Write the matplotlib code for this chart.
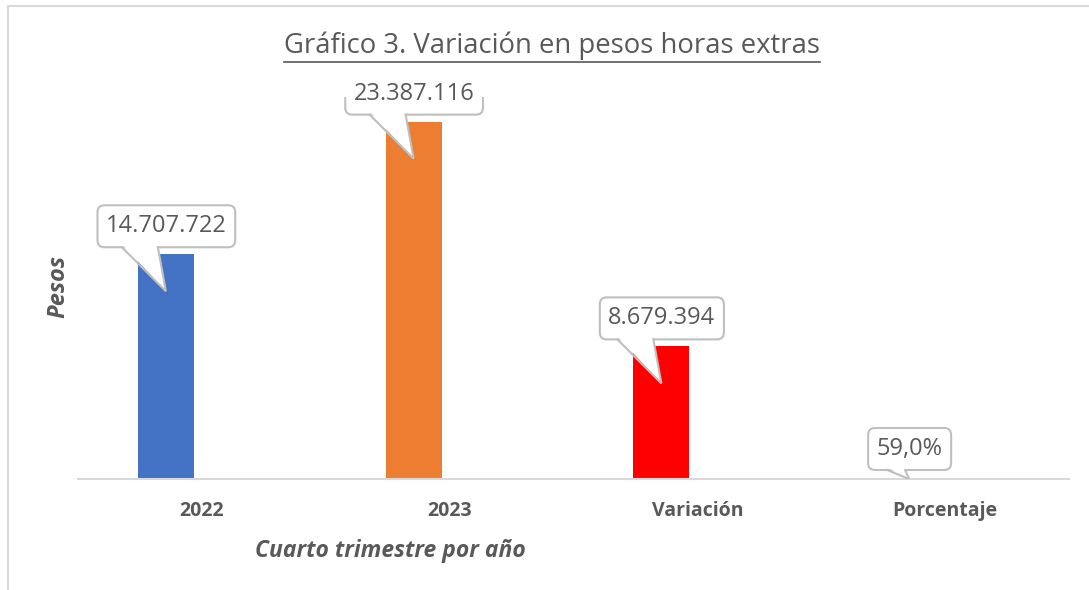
import matplotlib
matplotlib.use("Agg")
import matplotlib.pyplot as plt
import matplotlib.transforms as mtransforms
from matplotlib.patches import FancyBboxPatch, Polygon, Rectangle
from matplotlib.lines import Line2D
import numpy as np

categories = ["2022", "2023", "Variación", "Porcentaje"]
values = [14707722, 23387116, 8679394, 0.59]
labels = ["14.707.722", "23.387.116", "8.679.394", "59,0%"]
colors = ["#4472C4", "#ED7D31", "#FF0000", "#A5A5A5"]

title = "Gráfico 3. Variación en pesos horas extras"
xlabel = "Cuarto trimestre por año"
ylabel = "Pesos"

FONT = "Open Sans"
TXT = "#595959"
GRID = "#D9D9D9"
DPI = 100

fig = plt.figure(figsize=(10.89, 5.9), dpi=DPI)
W, H = 1089, 590

# outer chart frame (cut off on the right and bottom like the screenshot)
fig.patches.append(Rectangle((8 / W, -0.05), 1.1, (590 - 6) / H + 0.05,
                             transform=fig.transFigure, fill=False,
                             ec=GRID, lw=1.5))

ax = fig.add_axes([78 / W, 111 / H, 991 / W, 382 / H])
x = np.arange(len(categories))
bar_off = -36 / 247.75
bar_w = 56 / 247.75
ax.bar(x + bar_off, values, bar_w, color=colors, zorder=2)
ax.set_xlim(-0.5, len(categories) - 0.5)
ax.set_ylim(0, 25e6)
for s in ["left", "right", "top"]:
    ax.spines[s].set_visible(False)
ax.spines["bottom"].set_color(GRID)
ax.spines["bottom"].set_linewidth(1.5)
ax.set_yticks([])
ax.set_xticks(x)
ax.set_xticklabels(categories, fontfamily=FONT, fontweight="bold",
                   fontsize=14, color=TXT)
ax.tick_params(axis="x", length=0, pad=16)

fig.canvas.draw()
renderer = fig.canvas.get_renderer()


def px(v):
    return v / DPI


# callouts
for xi, v, lab in zip(x + bar_off, values, labels):
    bar_px = ax.transData.transform((0, v))[1] - ax.transData.transform((0, 0))[1]
    tr = fig.dpi_scale_trans + mtransforms.ScaledTranslation(xi, v, ax.transData)
    if bar_px > 20:
        cy, tip, base = 28, -37, (-44, -8)
    else:
        cy, tip, base = 30, 0, (-22, -4)
    t = ax.text(px(0.5), px(cy), lab, transform=tr, ha="center", va="center",
                fontfamily=FONT, fontsize=17, color=TXT, zorder=6)
    bb = t.get_window_extent(renderer)
    bw = bb.width + 17
    bh = 42
    box = FancyBboxPatch((px(0.5 - bw / 2), px(cy - bh / 2)), px(bw), px(bh),
                         boxstyle="round,pad=0,rounding_size=%f" % px(7),
                         transform=tr, fc="white", ec="#BFBFBF", lw=1.5,
                         zorder=4)
    ax.add_patch(box)
    bottom = cy - bh / 2
    ax.add_patch(Polygon([(px(base[0] + 1), px(bottom + 2)),
                          (px(base[1] - 1), px(bottom + 2)),
                          (px(0), px(tip))], closed=True, transform=tr,
                         fc="white", ec="none", zorder=5))
    ax.add_line(Line2D([px(base[0]), px(0), px(base[1])],
                       [px(bottom), px(tip), px(bottom)], transform=tr,
                       color="#BFBFBF", lw=1.5, zorder=5,
                       solid_joinstyle="miter"))

# title with underline
tt = fig.text(552 / W, 1 - 46 / H, title, ha="center", va="center",
              fontfamily=FONT, fontsize=19.8, color=TXT)
fig.canvas.draw()
tb = tt.get_window_extent(fig.canvas.get_renderer()).transformed(fig.transFigure.inverted())
uy = 1 - 62 / H
fig.add_artist(Line2D([tb.x0, tb.x1], [uy, uy], transform=fig.transFigure,
                      color=TXT, lw=1.2))

fig.text(390 / W, 1 - 551 / H, xlabel, ha="center", va="center",
         fontfamily=FONT, fontsize=16.5, fontweight="bold", fontstyle="italic",
         color=TXT)
fig.text(58 / W, 1 - 287 / H, ylabel, ha="center", va="center", rotation=90,
         fontfamily=FONT, fontsize=17, fontweight="bold", fontstyle="italic",
         color=TXT)

fig.savefig("out.png", dpi=DPI)
